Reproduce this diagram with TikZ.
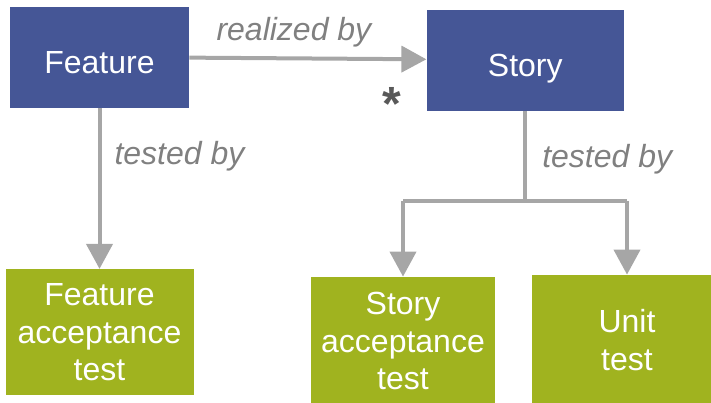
\documentclass[tikz,border=0pt]{standalone}
\usepackage{fontspec}
\setmainfont{Liberation Sans}
\usepackage{xcolor}
\definecolor{ITEMCOLOR}{RGB}{69,86,150}
\definecolor{TESTCOLOR}{RGB}{160,179,31}
\definecolor{LINKCOLOR}{RGB}{166,166,166}
\definecolor{LABELCOLOR}{RGB}{128,128,128}
\definecolor{STARCOLOR}{RGB}{89,89,89}
\usetikzlibrary{arrows.meta,positioning,calc}
\tikzset{
  box-style/.style = {
    rectangle, fill=#1, text=white, align=center,
    font=\fontsize{16}{18.75}\selectfont,
    inner sep=0pt
  },
  item-style/.style = {
    box-style=ITEMCOLOR,
    minimum height=50.5pt,
    text height=16pt, text depth=0pt
  },
  test-style/.style = {
    box-style=TESTCOLOR,
    minimum height=63pt
  },
  label-style/.style = {
    text=LABELCOLOR, inner sep=0pt,
    font=\fontsize{16}{18}\selectfont\itshape
  },
  every edge/.style = {draw, LINKCOLOR, line width=2pt, -{Triangle[length=12.5pt,width=13pt]}}
}
\newcommand\boxName[1]{#1}

\begin{document}
\begin{tikzpicture}[x=0.5pt,y=-0.5pt]
  \useasboundingbox (0,0) rectangle (711,402);

  \node[item-style, minimum width=89.5pt] (feature) at (99.5,57) {\boxName{Feature}};
  \node[item-style, minimum width=98.5pt, right=118.5pt of feature, yshift=-1.5pt] (story) {\boxName{Story}};
  \node[test-style, minimum width=94pt, below=80.5pt of feature] (featuretest) {\boxName{Feature\\acceptance\\test}};
  \node[test-style, minimum width=92pt, minimum height=64pt] (storytest) at (403,341) {\boxName{Story\\acceptance\\test}};
  \node[test-style, minimum width=95pt, minimum height=65pt] (unittest) at (627,340) {\boxName{Unit\\test}};
  \coordinate (split) at ($(story.south)+(0,90)$);

  \path (feature) edge node[label-style, above=4.5pt, xshift=-7pt]{realized by} (story);
  \node[text=STARCOLOR, inner sep=0pt, font=\fontsize{24}{24}\selectfont\bfseries] (many) at (392,104) {*};
  \path (feature) edge node[label-style, pos=0.3, right=6.5pt]{tested by} (featuretest);

  \draw[LINKCOLOR, line width=2pt] (story.south) -- node[label-style, right=7.5pt, yshift=-1.5pt]{tested by} (split);
  \path (split -| storytest) edge (storytest.north)
        (split -| unittest) edge (unittest.north);
  \draw[LINKCOLOR, line width=2pt] (split -| storytest) -- (split -| unittest);
\end{tikzpicture}
\end{document}
